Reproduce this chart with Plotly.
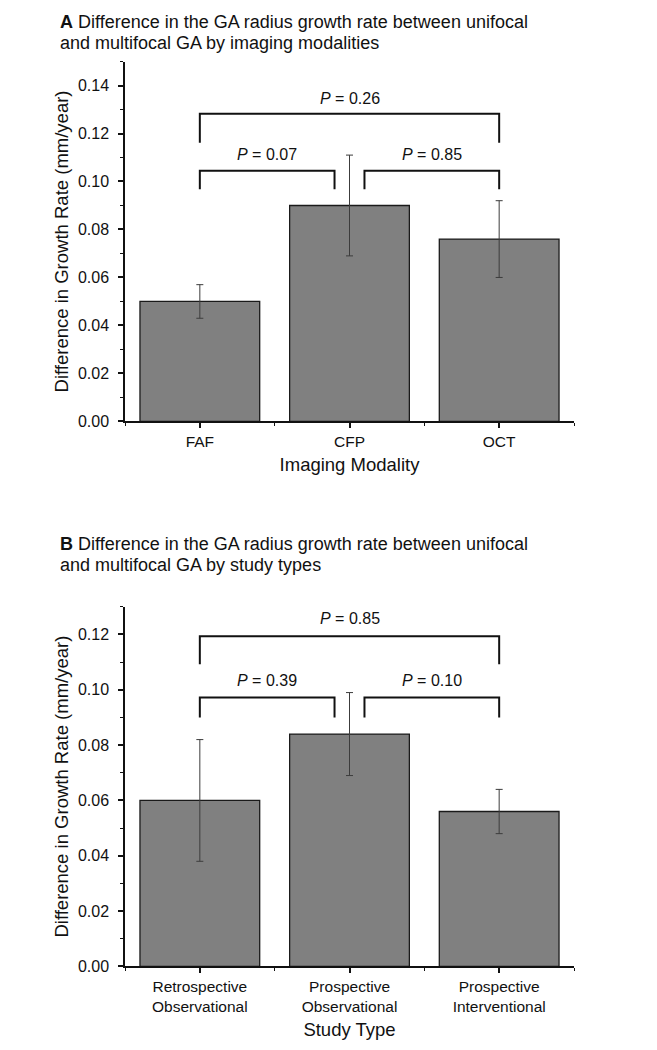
import plotly.graph_objects as go

# ---------------- data ----------------
modalities = ["FAF", "CFP", "OCT"]
modality_diff = [0.050, 0.090, 0.076]
modality_err = [0.007, 0.021, 0.016]
modality_pairs = [(0, 1), (1, 2), (0, 2)]
modality_p = ["0.07", "0.85", "0.26"]

study_types = ["Retrospective<br>Observational", "Prospective<br>Observational", "Prospective<br>Interventional"]
study_diff = [0.060, 0.084, 0.056]
study_err = [0.022, 0.015, 0.008]
study_pairs = [(0, 1), (1, 2), (0, 2)]
study_p = ["0.39", "0.10", "0.85"]

yticks_a = [0.00, 0.02, 0.04, 0.06, 0.08, 0.10, 0.12, 0.14]
yticks_b = [0.00, 0.02, 0.04, 0.06, 0.08, 0.10, 0.12]

FONT = "Liberation Sans, Arial, Helvetica, sans-serif"
W, H = 657, 1050

fig = go.Figure()

def px_y(p):
    return 1 - p / H

x_dom = [117 / W, 566 / W]
panels = [
    dict(cats=modalities, vals=modality_diff, errs=modality_err, pairs=modality_pairs, pv=modality_p,
         ticks=yticks_a, yr=[0, 0.15], dom=[px_y(417), px_y(54)], xt="Imaging Modality",
         small=(0.1045, 0.0968, 0.1111), big=(0.1282, 0.1161, 0.1347), xa="x", ya="y",
         title=["<b>A</b> Difference in the GA radius growth rate between unifocal",
                "and multifocal GA by imaging modalities"], ty=[14, 35]),
    dict(cats=study_types, vals=study_diff, errs=study_err, pairs=study_pairs, pv=study_p,
         ticks=yticks_b, yr=[0, 0.13], dom=[px_y(966.7), px_y(604)], xt="Study Type",
         small=(0.0972, 0.0900, 0.1033), big=(0.1194, 0.1092, 0.1256), xa="x2", ya="y2",
         title=["<b>B</b> Difference in the GA radius growth rate between unifocal",
                "and multifocal GA by study types"], ty=[540.5, 561.5]),
]

shapes = []
annotations = []
for i, pn in enumerate(panels):
    pos = list(range(len(pn["cats"])))
    fig.add_trace(go.Bar(
        x=pos, y=pn["vals"], width=0.8, xaxis=pn["xa"], yaxis=pn["ya"],
        marker=dict(color="#808080", line=dict(color="#1a1a1a", width=1.3)),
        error_y=dict(type="data", array=pn["errs"], visible=True, color="#3c3c3c", thickness=1, width=3.5),
        showlegend=False, hoverinfo="skip"))
    sfx = "" if i == 0 else "2"
    fig.update_layout(**{
        "xaxis" + sfx: dict(domain=x_dom, range=[-0.5, 2.5], tickmode="array", tickvals=pos,
                            ticktext=pn["cats"], showline=True, linecolor="#111", linewidth=1.5,
                            ticks="outside", ticklen=5, tickwidth=1.5, tickcolor="#111",
                            showgrid=False, zeroline=False, anchor=pn["ya"],
                            tickfont=dict(family=FONT, size=15.5, color="#111"),
                            minor=dict(ticks="outside", ticklen=3, tickwidth=1.2, tickcolor="#111",
                                       tick0=0.5, dtick=1, showgrid=False),
                            title=dict(text=pn["xt"], font=dict(family=FONT, size=18.5, color="#111"),
                                       standoff=9)),
        "yaxis" + sfx: dict(domain=pn["dom"], range=pn["yr"], tickmode="array", tickvals=pn["ticks"],
                            tickformat=".2f", showline=True, linecolor="#111", linewidth=1.5,
                            ticks="outside", ticklen=5, tickwidth=1.5, tickcolor="#111",
                            showgrid=False, zeroline=False, anchor=pn["xa"], ticklabelstandoff=6,
                            tickfont=dict(family=FONT, size=16, color="#111"),
                            minor=dict(ticks="outside", ticklen=3, tickwidth=1.2, tickcolor="#111",
                                       tick0=0, dtick=0.01, showgrid=False),
                            title=dict(text="Difference in Growth Rate (mm/year)",
                                       font=dict(family=FONT, size=18.5, color="#111"), standoff=4)),
    })
    for (a, b), p in zip(pn["pairs"], pn["pv"]):
        if b - a == 1:
            ytop, yleg, ytxt = pn["small"]
            x0 = a + (0.0 if a == 0 else 0.1)
            x1 = b - (0.1 if b == 1 else 0.0)
        else:
            ytop, yleg, ytxt = pn["big"]
            x0, x1 = a, b
        shapes.append(dict(type="path", xref=pn["xa"], yref=pn["ya"],
                           path=f"M {x0},{yleg} L {x0},{ytop} L {x1},{ytop} L {x1},{yleg}",
                           line=dict(color="#111", width=2)))
        annotations.append(dict(x=(x0 + x1) / 2, y=ytxt, xref=pn["xa"], yref=pn["ya"],
                                text=f"<i>P</i> = {p}", showarrow=False, xanchor="center", yanchor="middle",
                                font=dict(family=FONT, size=16, color="#111")))
    for line, yp in zip(pn["title"], pn["ty"]):
        annotations.append(dict(x=50 / W, y=px_y(yp), xref="paper", yref="paper", text=line,
                                showarrow=False, xanchor="left", yanchor="middle",
                                font=dict(family=FONT, size=18, color="#111")))

fig.update_layout(width=W, height=H, margin=dict(l=0, r=0, t=0, b=0),
                  paper_bgcolor="white", plot_bgcolor="white", bargap=0.2,
                  shapes=shapes, annotations=annotations)

fig.write_html("out.html")
